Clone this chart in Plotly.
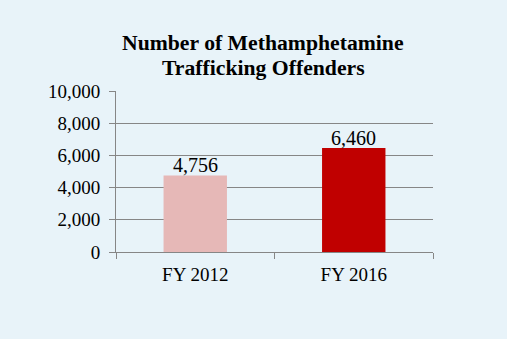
import plotly.graph_objects as go

categories = ["FY 2012", "FY 2016"]
values = [4756, 6460]
colors = ["#e6b8b7", "#c00000"]
labels = ["4,756", "6,460"]
tick_vals = [0, 2000, 4000, 6000, 8000, 10000]
tick_text = ["0", "2,000", "4,000", "6,000", "8,000", "10,000"]
title_lines = ["Number of Methamphetamine", "Trafficking Offenders"]

bg = "#e8f3f9"
grid = "#868686"
font_family = "Liberation Serif"

W, H = 507, 339
ML, MR, MT, MB = 116, 74, 91, 87
plot_w = W - ML - MR
plot_h = H - MT - MB

fig = go.Figure()
fig.add_trace(go.Bar(
    x=categories, y=values, marker=dict(color=colors, line=dict(width=0)),
    width=0.4,
))

for cat, val, lab in zip(categories, values, labels):
    fig.add_annotation(
        x=cat, y=val, xref="x", yref="y", text=lab, showarrow=False,
        yanchor="bottom", yshift=-3,
        font=dict(family=font_family, size=20, color="#000000"),
    )

title_cx = 263
title_cy = [43, 68]
for line, cy in zip(title_lines, title_cy):
    fig.add_annotation(
        x=(title_cx - ML) / plot_w, xref="paper",
        y=(H - MB - cy) / plot_h, yref="paper",
        text=f"<b>{line}</b>", showarrow=False, xanchor="center", yanchor="middle",
        font=dict(family=font_family, size=21.7, color="#000000"),
    )

fig.update_layout(
    width=W, height=H,
    paper_bgcolor=bg, plot_bgcolor=bg,
    margin=dict(l=ML, r=MR, t=MT, b=MB),
    showlegend=False,
    font=dict(family=font_family, size=19, color="#000000"),
)
fig.update_yaxes(
    range=[0, 10000], tickvals=tick_vals, ticktext=tick_text,
    showgrid=True, gridcolor=grid, gridwidth=1,
    showline=True, linecolor=grid, linewidth=1,
    ticks="outside", ticklen=6, tickcolor=grid, ticklabelstandoff=5,
    zeroline=False, fixedrange=True,
)
fig.update_xaxes(
    showline=True, linecolor=grid, linewidth=1,
    ticks="outside", ticklen=6, tickcolor=grid, tickson="boundaries",
    ticklabelstandoff=5,
    showgrid=False,
)
fig.write_html("out.html")
